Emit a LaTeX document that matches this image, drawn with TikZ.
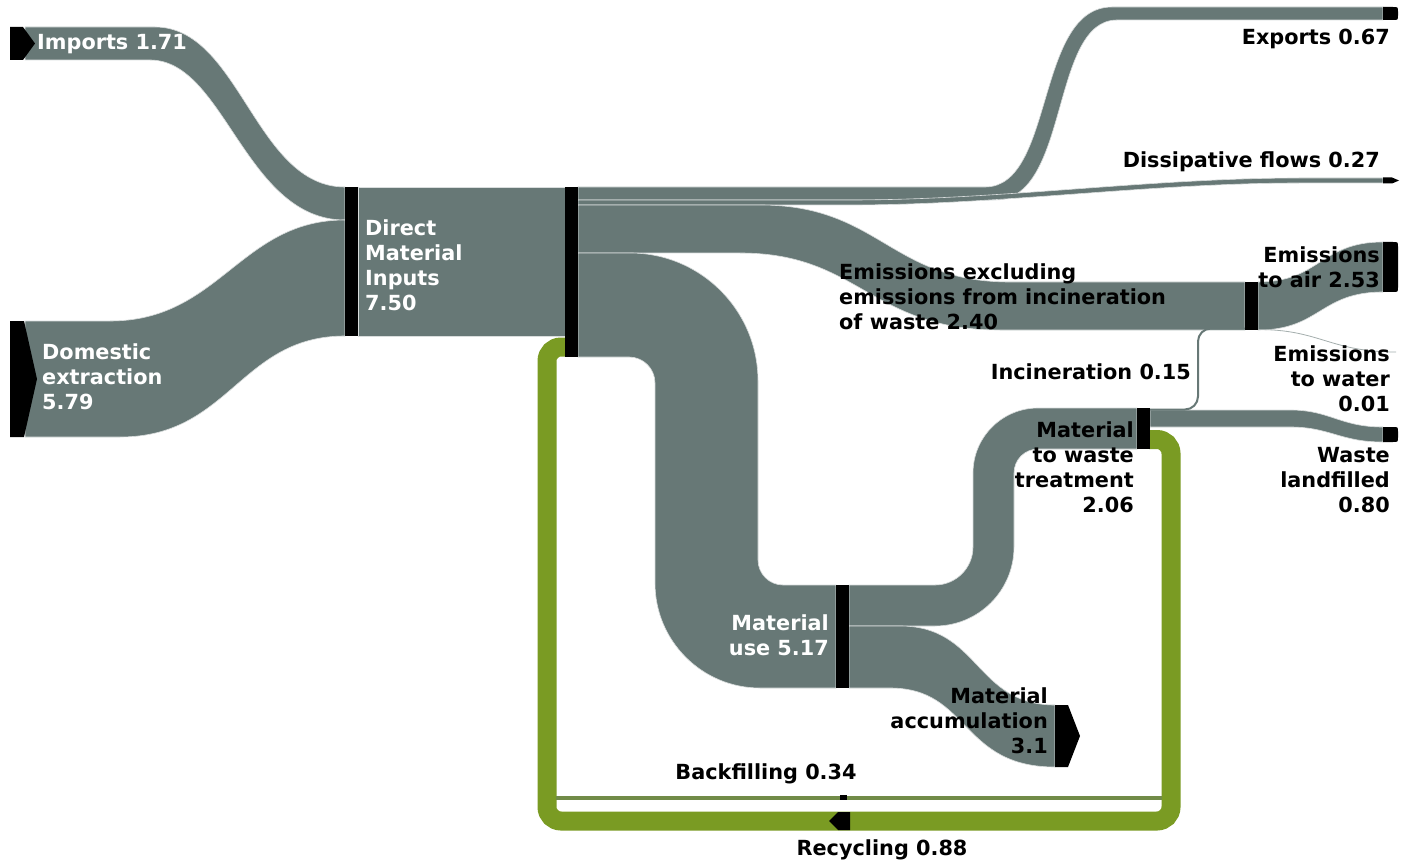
\documentclass[tikz,border=0pt]{standalone}
\usepackage{fontspec}
\setmainfont{DejaVu Sans}
\definecolor{flowgray}{RGB}{103,120,118}
\definecolor{loopgreen}{RGB}{122,155,35}
% rounded black end of an outgoing flow, top and bottom y
\newcommand{\capend}[2]{\fill[flowend] (1383,#1) -- (1393,#1)
  .. controls (1398,#1) .. (1398,#1+5) -- (1398,#2-5)
  .. controls (1398,#2) .. (1393,#2) -- (1383,#2) -- cycle;}

\begin{document}
\begin{tikzpicture}[x=1pt,y=-1pt,
  flow/.style={fill=flowgray,draw=white!75!flowgray,line width=0.6pt},
  stock/.style={fill=black,inner sep=0pt,minimum width=13pt,minimum height=#1},
  flowend/.style={fill=black},
  txt/.style={font=\fontsize{20.8}{25}\selectfont\bfseries,inner sep=0pt},
  wtxt/.style={txt,text=white}]

  \useasboundingbox[fill=white] (0,0) rectangle (1401,861);

  % inputs
  \path[flow] (25,27) -- (155,27) .. controls (240,27) and (255,187) .. (345,187)
    -- (345,220) .. controls (245,220) and (225,60) .. (150,60) -- (25,60) -- cycle;
  \path[flow] (25,321) -- (110,321) .. controls (220,321) and (240,220) .. (345,220)
    -- (345,336) .. controls (240,336) and (230,437) .. (120,437) -- (25,437) -- cycle;
  \path[flow] (358,187) rectangle (565,336);

  % recycling loop
  \draw[loopgreen,line width=19pt,rounded corners=14pt]
    (566,347) -- (547,347) -- (547,821) -- (1171,821) -- (1171,439.5) -- (1149,439.5);
  \draw[loopgreen!55!flowgray,line width=4pt] (556,797.5) -- (1162,797.5);

  % outputs of the inputs
  \path[flow] (578,187) -- (985,187) .. controls (1055,187) and (1035,7) .. (1112,7)
    -- (1383,7) -- (1383,20) -- (1117,20) .. controls (1050,20) and (1070,200) .. (995,200)
    -- (578,200) -- cycle;
  \path[flow] (578,200) -- (850,200) .. controls (1000,200) and (1150,178) .. (1300,178)
    -- (1383,178) -- (1383,183) -- (1300,183) .. controls (1150,183) and (1000,205) .. (850,205)
    -- (578,205) -- cycle;
  \path[flow] (578,205) -- (760,205) .. controls (880,205) and (890,282) .. (1010,282)
    -- (1245,282) -- (1245,330) -- (1000,330) .. controls (870,330) and (860,253) .. (740,253)
    -- (578,253) -- cycle;
  \path[flow] (578,253) -- (630,253) .. controls (700.7,253) and (758,310.3) .. (758,381)
    -- (758,560) .. controls (758,573.8) and (769.2,585) .. (783,585) -- (836,585)
    -- (836,688) -- (760,688) .. controls (702,688) and (655,641) .. (655,583)
    -- (655,383) .. controls (655,368.6) and (643.4,357) .. (629,357) -- (578,357) -- cycle;

  % outputs of material use
  \path[flow] (849,585) -- (935,585) .. controls (956,585) and (973,568) .. (973,547)
    -- (973,473) .. controls (973,437.1) and (1002.1,408) .. (1038,408) -- (1137,408)
    -- (1137,449) -- (1038,449) .. controls (1024.7,449) and (1014,459.7) .. (1014,473)
    -- (1014,547) .. controls (1014,590.6) and (978.6,626) .. (935,626) -- (849,626) -- cycle;
  \path[flow] (849,626) -- (900,626) .. controls (980,626) and (975,705) .. (1055,705)
    -- (1055,767) .. controls (960,767) and (970,688) .. (890,688) -- (849,688) -- cycle;

  % outputs of waste treatment and emissions
  \path[flow] (1150,410) -- (1290,410) .. controls (1330,410) and (1340,427) .. (1383,427)
    -- (1383,442) .. controls (1340,442) and (1330,427) .. (1290,427) -- (1150,427) -- cycle;
  \draw[flowgray,line width=2pt,rounded corners=13pt]
    (1150,409.5) -- (1198,409.5) -- (1198,328.5) -- (1245,328.5);
  \path[flow] (1258,282) .. controls (1320,282) and (1320,242) .. (1383,242)
    -- (1383,292) .. controls (1320,292) and (1320,330) .. (1258,330) -- cycle;
  \draw[flowgray!60,line width=0.8pt]
    (1258,329.5) .. controls (1320,329.5) and (1330,352) .. (1396,352);

  % stocks
  \node[stock=149pt] (dmi) at (351.5,261.5) {};
  \node[stock=170pt] (hub) at (571.5,272) {};
  \node[stock=103pt] (use) at (842.5,636.5) {};
  \node[stock=41pt] (waste) at (1143.5,428.5) {};
  \node[stock=48pt] (emis) at (1251.5,306) {};

  % ends of the flows
  \fill[flowend] (10,27) -- (23,27) -- (35,43.5) -- (23,60) -- (10,60) -- cycle;
  \fill[flowend] (10,321) -- (24,321) -- (37,379) -- (24,437) -- (10,437) -- cycle;
  \fill[flowend] (1055,705) -- (1068,705) -- (1080,736) -- (1068,767) -- (1055,767) -- cycle;
  \fill[flowend] (1383,177.5) -- (1392,177.5) -- (1399,180.5) -- (1392,183.5) -- (1383,183.5) -- cycle;
  \fill[flowend] (850,812) -- (838,812) -- (829,821) -- (838,830) -- (850,830) -- cycle;
  \fill[flowend] (840,795) rectangle (847,800);
  \capend{7}{20}
  \capend{242}{292}
  \capend{427}{442}

  % labels
  \node[wtxt,anchor=west] (imp) at (37,44) {Imports 1.71};
  \node[wtxt,anchor=west,align=left] (dom) at (42,377) {Domestic\\extraction\\5.79};
  \node[wtxt,anchor=west,align=left] (dmitxt) at (365,265) {Direct\\Material\\Inputs\\7.50};
  \node[wtxt,anchor=east,align=right] (usetxt) at (829,635) {Material\\use 5.17};
  \node[txt,anchor=east,align=right] (acc) at (1048,721) {Material\\accumulation\\3.1};
  \node[txt,anchor=east,align=right] (wastetxt) at (1134,467) {Material\\to waste\\treatment\\2.06};
  \node[txt,anchor=west,align=left] (emistxt) at (839,297) {Emissions excluding\\emissions from incineration\\of waste 2.40};
  \node[txt,anchor=east] (inc) at (1191,372) {Incineration 0.15};
  \node[txt,anchor=east,align=right] (air) at (1380,267) {Emissions\\to air 2.53};
  \node[txt,anchor=east,align=right] (water) at (1390,379) {Emissions\\to water\\0.01};
  \node[txt,anchor=east,align=right] (land) at (1390,480) {Waste\\landfilled\\0.80};
  \node[txt,anchor=east] (exp) at (1390,39) {Exports 0.67};
  \node[txt,anchor=east] (diss) at (1380,162) {Dissipative flows 0.27};
  \node[txt] (back) at (766,774) {Backfilling 0.34};
  \node[txt] (rec) at (882,850) {Recycling 0.88};

\end{tikzpicture}
\end{document}
